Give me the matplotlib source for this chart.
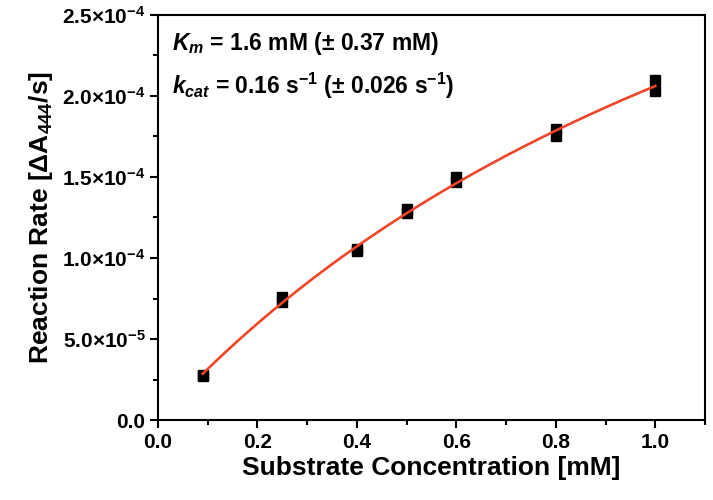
import numpy as np
import matplotlib
matplotlib.use("Agg")
import matplotlib.pyplot as plt
from matplotlib.ticker import FixedLocator, MultipleLocator, FuncFormatter

plt.rcParams['font.family'] = ['Liberation Sans', 'DejaVu Sans']
plt.rcParams['font.weight'] = 'bold'
plt.rcParams['mathtext.fontset'] = 'custom'
plt.rcParams['mathtext.rm'] = 'Liberation Sans:bold'
plt.rcParams['mathtext.bf'] = 'Liberation Sans:bold'
plt.rcParams['mathtext.it'] = 'Liberation Sans:italic:bold'
plt.rcParams['mathtext.bfit'] = 'Liberation Sans:italic:bold'

# measured rates (duplicates at each concentration)
conc = [0.09, 0.09, 0.25, 0.25, 0.4, 0.4, 0.5, 0.5, 0.6, 0.6, 0.8, 0.8, 1.0, 1.0]
rate = [2.72e-5, 2.76e-5, 7.28e-5, 7.58e-5, 1.045e-4, 1.055e-4, 1.278e-4, 1.303e-4,
        1.472e-4, 1.502e-4, 1.750e-4, 1.796e-4, 2.032e-4, 2.100e-4]

# Michaelis-Menten fit parameters
km = 1.6        # mM
vmax = 5.36e-4  # dA444/s

x_ticks = [0.0, 0.2, 0.4, 0.6, 0.8, 1.0]
y_ticks = [0.0, 5.0e-5, 1.0e-4, 1.5e-4, 2.0e-4, 2.5e-4]
y_labels = ['0.0', r'$\mathbf{5.0{\times}10^{-5}}$', r'$\mathbf{1.0{\times}10^{-4}}$',
            r'$\mathbf{1.5{\times}10^{-4}}$', r'$\mathbf{2.0{\times}10^{-4}}$',
            r'$\mathbf{2.5{\times}10^{-4}}$']

fig = plt.figure(figsize=(7.13, 5.0), dpi=100)
ax = fig.add_axes([0.2216, 0.16, 0.7672, 0.81])

s_fit = np.linspace(min(conc), max(conc), 200)
ax.plot(s_fit, vmax * s_fit / (km + s_fit), color='#f04628', lw=1.9, zorder=3)
ax.plot(conc, rate, 's', color='black', ms=6.5, mec='black', zorder=2)

ax.set_xlim(0, 1.1)
ax.set_ylim(0, 2.5e-4)
ax.xaxis.set_major_locator(FixedLocator(x_ticks))
ax.xaxis.set_minor_locator(MultipleLocator(0.1))
ax.yaxis.set_major_locator(FixedLocator(y_ticks))
ax.yaxis.set_minor_locator(MultipleLocator(2.5e-5))
ax.xaxis.set_major_formatter(FuncFormatter(lambda v, p: f'{v:.1f}'))
ax.set_yticklabels(y_labels)

for sp in ax.spines.values():
    sp.set_visible(True)
    sp.set_linewidth(1.5)
    sp.set_color('black')
ax.tick_params(which='major', direction='out', length=6, width=1.5, labelsize=15, pad=3)
ax.tick_params(which='minor', direction='out', length=3.5, width=1.5)
ax.tick_params(top=False, right=False, which='both')

ax.set_xlabel('Substrate Concentration [mM]', fontsize=19, fontweight='bold', labelpad=3)
ax.set_ylabel(r'Reaction Rate [ΔA$_{\mathbf{444}}$/s]', fontsize=19, fontweight='bold', labelpad=5)

ax.text(0.025, 0.93, r'$\mathbfit{K}_{\mathbfit{m}}$ = 1.6 mM (± 0.37 mM)',
        transform=ax.transAxes, fontsize=16.5, fontweight='bold', va='center')
ax.text(0.025, 0.825, r'$\mathbfit{k}_{\mathbfit{cat}}$ = 0.16 s$^{\mathbf{-1}}$ (± 0.026 s$^{\mathbf{-1}}$)',
        transform=ax.transAxes, fontsize=16.5, fontweight='bold', va='center')

fig.savefig('out.png', dpi=100)
